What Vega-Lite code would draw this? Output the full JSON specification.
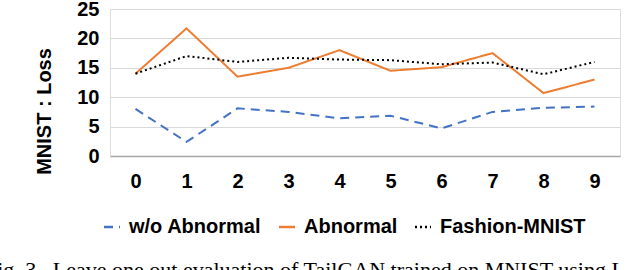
{
  "$schema": "https://vega.github.io/schema/vega-lite/v6.json",
  "width": 510,
  "height": 147,
  "autosize": {"type": "none"},
  "padding": {"left": 110, "top": 9, "right": 20, "bottom": 114},
  "background": "white",
  "title": {
    "text": "Fig. 3.\u00a0 Leave one out evaluation of TailGAN trained on MNIST using L",
    "orient": "bottom",
    "anchor": "start",
    "frame": "group",
    "font": "Liberation Serif",
    "fontSize": 22,
    "fontWeight": "normal",
    "color": "#000000",
    "baseline": "top",
    "offset": 23,
    "dx": -125
  },
  "data": {
    "values": [
      {"digit": "0", "series": "w/o Abnormal", "loss": 8.0},
      {"digit": "1", "series": "w/o Abnormal", "loss": 2.4},
      {"digit": "2", "series": "w/o Abnormal", "loss": 8.1},
      {"digit": "3", "series": "w/o Abnormal", "loss": 7.5},
      {"digit": "4", "series": "w/o Abnormal", "loss": 6.4},
      {"digit": "5", "series": "w/o Abnormal", "loss": 6.85},
      {"digit": "6", "series": "w/o Abnormal", "loss": 4.7},
      {"digit": "7", "series": "w/o Abnormal", "loss": 7.5},
      {"digit": "8", "series": "w/o Abnormal", "loss": 8.2},
      {"digit": "9", "series": "w/o Abnormal", "loss": 8.4},
      {"digit": "0", "series": "Abnormal", "loss": 14.0},
      {"digit": "1", "series": "Abnormal", "loss": 21.7},
      {"digit": "2", "series": "Abnormal", "loss": 13.5},
      {"digit": "3", "series": "Abnormal", "loss": 15.0},
      {"digit": "4", "series": "Abnormal", "loss": 18.0},
      {"digit": "5", "series": "Abnormal", "loss": 14.5},
      {"digit": "6", "series": "Abnormal", "loss": 15.1},
      {"digit": "7", "series": "Abnormal", "loss": 17.5},
      {"digit": "8", "series": "Abnormal", "loss": 10.7},
      {"digit": "9", "series": "Abnormal", "loss": 13.0},
      {"digit": "0", "series": "Fashion-MNIST", "loss": 14.0},
      {"digit": "1", "series": "Fashion-MNIST", "loss": 17.0},
      {"digit": "2", "series": "Fashion-MNIST", "loss": 16.0},
      {"digit": "3", "series": "Fashion-MNIST", "loss": 16.7},
      {"digit": "4", "series": "Fashion-MNIST", "loss": 16.4},
      {"digit": "5", "series": "Fashion-MNIST", "loss": 16.3},
      {"digit": "6", "series": "Fashion-MNIST", "loss": 15.6},
      {"digit": "7", "series": "Fashion-MNIST", "loss": 15.9},
      {"digit": "8", "series": "Fashion-MNIST", "loss": 13.9},
      {"digit": "9", "series": "Fashion-MNIST", "loss": 16.0}
    ]
  },
  "mark": {"type": "line", "strokeWidth": 2, "strokeCap": "butt"},
  "encoding": {
    "x": {
      "field": "digit",
      "type": "ordinal",
      "scale": {"type": "point", "padding": 0.5},
      "axis": {
        "title": null,
        "labelAngle": 0,
        "ticks": false,
        "grid": false,
        "domain": true,
        "domainColor": "#a6a6a6",
        "domainWidth": 1.5,
        "labelPadding": 15,
        "labelFont": "Liberation Sans",
        "labelFontSize": 20,
        "labelFontWeight": "bold",
        "labelColor": "#000000"
      }
    },
    "y": {
      "field": "loss",
      "type": "quantitative",
      "scale": {"domain": [0, 25], "nice": false, "zero": true},
      "axis": {
        "title": "MNIST : Loss",
        "values": [0, 5, 10, 15, 20, 25],
        "ticks": false,
        "domain": false,
        "grid": true,
        "gridColor": "#d9d9d9",
        "gridWidth": 1,
        "labelPadding": 11,
        "labelFont": "Liberation Sans",
        "labelFontSize": 20,
        "labelFontWeight": "bold",
        "labelColor": "#000000",
        "titleFont": "Liberation Sans",
        "titleFontSize": 20,
        "titleFontWeight": "bold",
        "titleColor": "#000000",
        "titleAngle": -90,
        "titleAlign": "center",
        "titleBaseline": "alphabetic",
        "titleX": -60,
        "titleY": 102
      }
    },
    "color": {
      "field": "series",
      "type": "nominal",
      "scale": {
        "domain": ["w/o Abnormal", "Abnormal", "Fashion-MNIST"],
        "range": ["#4472c4", "#ed7d31", "#000000"]
      },
      "legend": {
        "title": null,
        "orient": "none",
        "direction": "horizontal",
        "legendX": -8,
        "legendY": 208,
        "symbolType": "stroke",
        "symbolSize": 256,
        "symbolStrokeWidth": 2.5,
        "labelFont": "Liberation Sans",
        "labelFontSize": 20,
        "labelFontWeight": "bold",
        "labelColor": "#000000",
        "labelOffset": 7,
        "columnPadding": 12,
        "labelLimit": 300
      }
    },
    "strokeDash": {
      "field": "series",
      "type": "nominal",
      "scale": {
        "domain": ["w/o Abnormal", "Abnormal", "Fashion-MNIST"],
        "range": [[9, 6], [1, 0], [2, 3]]
      },
      "legend": {
        "title": null,
        "orient": "none",
        "direction": "horizontal",
        "legendX": -8,
        "legendY": 208,
        "symbolType": "stroke",
        "symbolSize": 256,
        "symbolStrokeWidth": 2.5,
        "labelFont": "Liberation Sans",
        "labelFontSize": 20,
        "labelFontWeight": "bold",
        "labelColor": "#000000",
        "labelOffset": 7,
        "columnPadding": 12,
        "labelLimit": 300
      }
    }
  }
}
